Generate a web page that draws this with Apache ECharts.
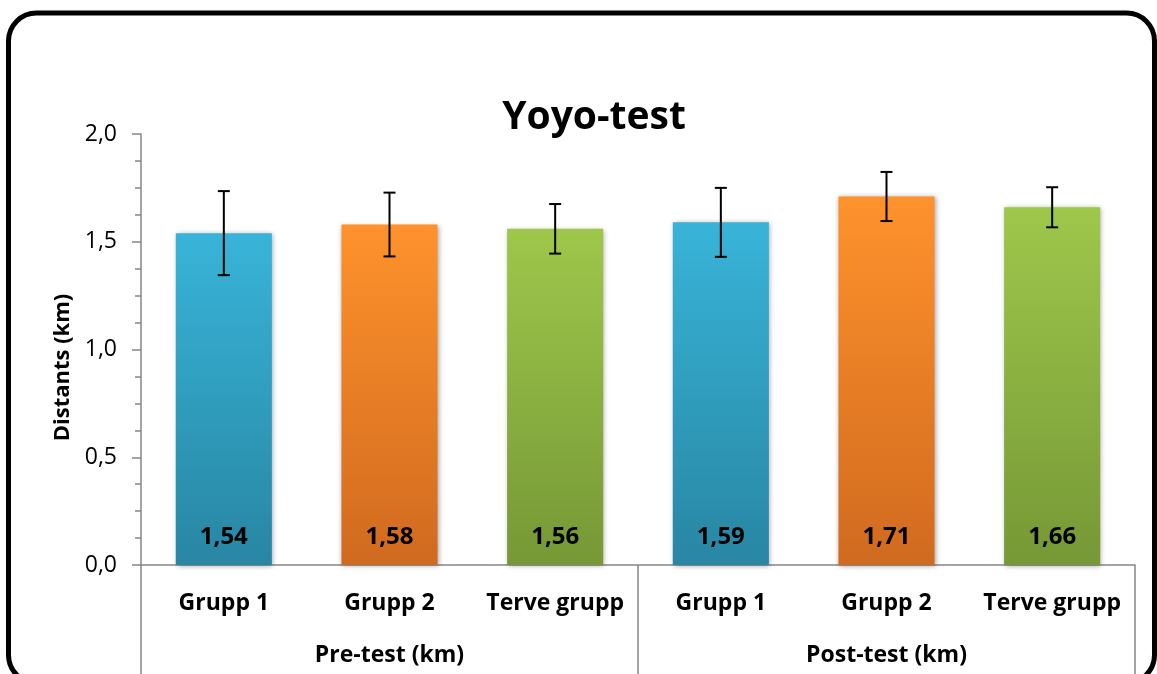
<!DOCTYPE html>
<html>
<head>
<meta charset="utf-8">
<title>Yoyo-test</title>
<script src="https://cdn.jsdelivr.net/npm/echarts@6/dist/echarts.min.js"></script>
<style>
	html,body{margin:0;padding:0;background:#fff;}
	#chart1{width:1157px;height:674px;}
</style>
</head>
<body>
<div id="chart1"></div>
<script>
var categories=['Grupp 1','Grupp 2','Terve grupp','Grupp 1','Grupp 2','Terve grupp'];
var groups=['Pre-test (km)','Post-test (km)'];
var values=[1.54,1.58,1.56,1.59,1.71,1.66];
var errors=[0.195,0.148,0.115,0.16,0.114,0.093];

// colours per bar: [top, bottom]
var palette=[
	['#38b4d8','#2886a3'],
	['#fe922c','#d06a1f'],
	['#9ec74b','#769836']
];
var FONT='Open Sans';

chart1();

function fmt(v,d){
	return v.toFixed(d).replace('.',',');
}

function chart1(){
	var myChart=echarts.init(document.getElementById('chart1'));
	var barData=values.map(function(v,i){
		var c=palette[i%3];
		return {
			value:v,
			itemStyle:{
				color:new echarts.graphic.LinearGradient(0,0,0,1,[
					{offset:0,color:c[0]},
					{offset:1,color:c[1]}
				])
			}
		};
	});
	var errData=values.map(function(v,i){
		return [i,v-errors[i],v+errors[i]];
	});
	var option={
		animation:false,
		textStyle:{fontFamily:FONT},
		title:{
			text:'Yoyo-test',
			left:589,
			top:93,
			textAlign:'center',
			textStyle:{fontFamily:FONT,fontWeight:'bold',fontSize:39,color:'#000'}
		},
		graphic:[{
			type:'rect',
			shape:{x:8.5,y:13,width:1146,height:670,r:28},
			style:{fill:'none',stroke:'#000',lineWidth:5},
			silent:true
		}],
		grid:{left:141,right:22,top:134,bottom:109},
		xAxis:[
			{
				type:'category',
				data:categories,
				axisLine:{lineStyle:{color:'#868686',width:1.5}},
				axisTick:{show:false},
				axisLabel:{
					margin:27,
					interval:0,
					fontFamily:FONT,
					fontWeight:'bold',
					fontSize:23,
					color:'#000'
				}
			},
			{
				type:'category',
				position:'bottom',
				data:groups,
				axisLine:{show:false},
				axisTick:{show:true,length:115,lineStyle:{color:'#868686',width:1.5}},
				axisLabel:{
					margin:79,
					fontFamily:FONT,
					fontWeight:'bold',
					fontSize:23,
					color:'#000'
				}
			}
		],
		yAxis:{
			type:'value',
			min:0,
			max:2,
			interval:0.5,
			name:'Distants (km)',
			nameLocation:'middle',
			nameRotate:90,
			nameGap:65,
			nameTextStyle:{
				fontFamily:FONT,
				fontWeight:'bold',
				fontSize:22,
				color:'#000',
				padding:[0,36,0,0]
			},
			axisLine:{show:true,lineStyle:{color:'#868686',width:1.5}},
			axisTick:{show:true,length:9,lineStyle:{color:'#868686',width:1.5}},
			minorTick:{show:true,splitNumber:4,length:6,lineStyle:{color:'#868686',width:1.5}},
			splitLine:{show:false},
			axisLabel:{
				margin:24,
				fontFamily:FONT,
				fontSize:23,
				color:'#000',
				formatter:function(v){return fmt(v,1);}
			}
		},
		series:[
			{
				name:'Distants',
				type:'bar',
				barWidth:'58%',
				data:barData,
				itemStyle:{
					shadowBlur:5,
					shadowColor:'rgba(0,0,0,0.35)',
					shadowOffsetX:1,
					shadowOffsetY:1
				},
				label:{
					show:true,
					position:'insideBottom',
					distance:16,
					fontFamily:FONT,
					fontWeight:'bold',
					fontSize:24,
					color:'#000',
					formatter:function(p){return fmt(p.value,2);}
				}
			},
			{
				name:'error',
				type:'custom',
				data:errData,
				z:5,
				renderItem:function(params,api){
					var x=api.value(0);
					var lo=api.coord([x,api.value(1)]);
					var hi=api.coord([x,api.value(2)]);
					var w=6;
					var st={stroke:'#000',lineWidth:2};
					return {
						type:'group',
						children:[
							{type:'line',shape:{x1:hi[0],y1:hi[1],x2:lo[0],y2:lo[1]},style:st},
							{type:'line',shape:{x1:hi[0]-w,y1:hi[1],x2:hi[0]+w,y2:hi[1]},style:st},
							{type:'line',shape:{x1:lo[0]-w,y1:lo[1],x2:lo[0]+w,y2:lo[1]},style:st}
						]
					};
				}
			}
		]
	};
	myChart.setOption(option);
	window.addEventListener("resize",function(){
		myChart.resize();
	});
}
</script>
</body>
</html>
